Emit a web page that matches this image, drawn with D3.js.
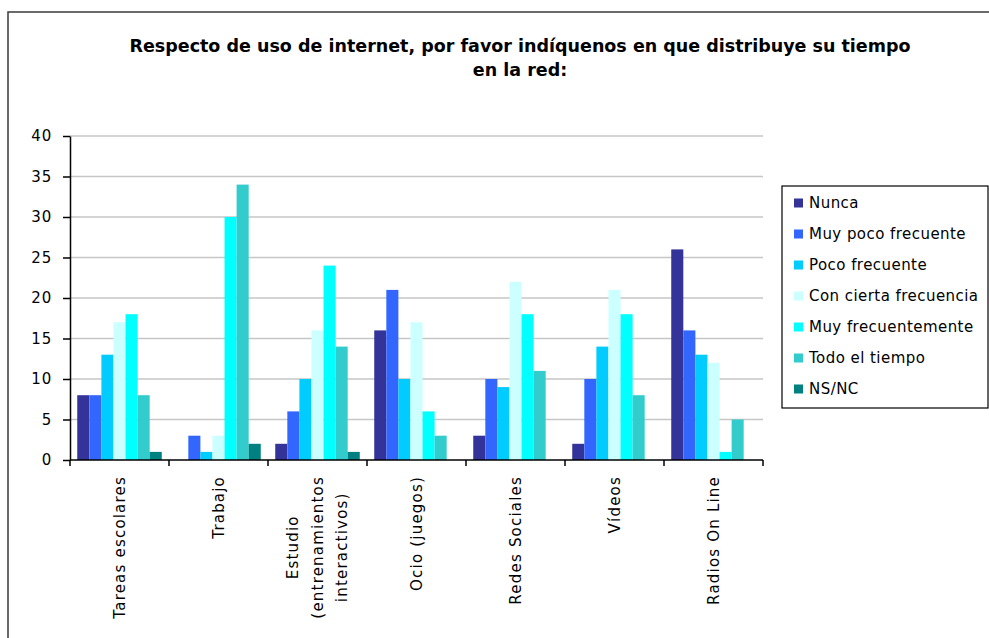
<!DOCTYPE html>
<html>
<head>
<meta charset="utf-8">
<script src="https://cdn.jsdelivr.net/npm/d3@7"></script>
<style>
  html, body { margin: 0; padding: 0; background: #ffffff; }
  svg { display: block; }
  text { font-family: "DejaVu Sans", Verdana, sans-serif; fill: #000; }
</style>
</head>
<body>
<svg id="chart" width="989" height="638"></svg>
<script>
// Categories (line breaks mark wrapped axis labels)
const categories = [
  "Tareas escolares",
  "Trabajo",
  "Estudio\n(entrenamientos\ninteractivos)",
  "Ocio (juegos)",
  "Redes Sociales",
  "Vídeos",
  "Radios On Line"
];

// One array per answer option, in category order
const seriesNames = [
  "Nunca",
  "Muy poco frecuente",
  "Poco frecuente",
  "Con cierta frecuencia",
  "Muy frecuentemente",
  "Todo el tiempo",
  "NS/NC"
];
const nunca               = [8, 0, 2, 16, 3, 2, 26];
const muyPocoFrecuente    = [8, 3, 6, 21, 10, 10, 16];
const pocoFrecuente       = [13, 1, 10, 10, 9, 14, 13];
const conCiertaFrecuencia = [17, 3, 16, 17, 22, 21, 12];
const muyFrecuentemente   = [18, 30, 24, 6, 18, 18, 1];
const todoElTiempo        = [8, 34, 14, 3, 11, 8, 5];
const nsnc                = [1, 2, 1, 0, 0, 0, 0];

const yTicks = [0, 5, 10, 15, 20, 25, 30, 35, 40];

const seriesValues = [nunca, muyPocoFrecuente, pocoFrecuente, conCiertaFrecuencia,
                      muyFrecuentemente, todoElTiempo, nsnc];
const colors = ["#333399", "#3366FF", "#00CCFF", "#CCFFFF", "#00FFFF", "#33CCCC", "#008080"];

const titleLines = [
  "Respecto de uso de internet, por favor indíquenos en que distribuye su tiempo",
  "en la red:"
];

const svg = d3.select("#chart");

// Outer chart frame
svg.append("rect")
  .attr("x", 8).attr("y", 12)
  .attr("width", 1000).attr("height", 700)
  .attr("fill", "#fff")
  .attr("stroke", "#3a3a3a").attr("stroke-width", 1.5);

// Title
svg.append("g").selectAll("text")
  .data(titleLines)
  .join("text")
  .attr("x", 520)
  .attr("y", (d, i) => 52 + i * 24)
  .attr("text-anchor", "middle")
  .attr("font-size", 17.5)
  .attr("font-weight", "bold")
  .text(d => d);

// Plot geometry
const plot = { left: 70, right: 763, top: 136, bottom: 460 };

const x0 = d3.scaleBand()
  .domain(categories)
  .range([plot.left, plot.right])
  .padding(0);

const x1 = d3.scaleBand()
  .domain(seriesNames)
  .range([0, x0.bandwidth()])
  .paddingInner(0)
  .paddingOuter(0.6);

const y = d3.scaleLinear()
  .domain([0, 40])
  .range([plot.bottom, plot.top]);

const color = d3.scaleOrdinal().domain(seriesNames).range(colors);

// Horizontal gridlines
svg.append("g")
  .selectAll("line")
  .data(yTicks.filter(t => t > 0))
  .join("line")
  .attr("x1", plot.left).attr("x2", plot.right)
  .attr("y1", d => y(d)).attr("y2", d => y(d))
  .attr("stroke", "#c6c6c6").attr("stroke-width", 1.5);

// Bars
const groups = svg.append("g")
  .selectAll("g")
  .data(categories)
  .join("g")
  .attr("transform", d => `translate(${x0(d)},0)`);

groups.selectAll("rect")
  .data((c, ci) => seriesNames.map((s, si) => ({ s, v: seriesValues[si][ci] })))
  .join("rect")
  .attr("x", d => x1(d.s))
  .attr("width", x1.bandwidth())
  .attr("y", d => y(d.v))
  .attr("height", d => y(0) - y(d.v))
  .attr("fill", d => color(d.s));

// Y axis
const yAxis = svg.append("g")
  .attr("transform", `translate(${plot.left},0)`)
  .call(d3.axisLeft(y).tickValues(yTicks).tickSize(7).tickPadding(11).tickSizeOuter(0));
yAxis.select(".domain").attr("stroke", "#000").attr("stroke-width", 1.5);
yAxis.selectAll(".tick line").attr("stroke", "#000").attr("stroke-width", 1.5);
yAxis.selectAll(".tick text")
  .attr("font-size", 15)
  .attr("letter-spacing", 0.8)
  .attr("font-family", "DejaVu Sans, Verdana, sans-serif")
  .attr("fill", "#000");

// X axis baseline and category separators
const xAxis = svg.append("g");
xAxis.append("line")
  .attr("x1", plot.left).attr("x2", plot.right)
  .attr("y1", plot.bottom).attr("y2", plot.bottom)
  .attr("stroke", "#000").attr("stroke-width", 1.5);
const boundaries = categories.map(c => x0(c)).concat([x0(categories[categories.length - 1]) + x0.bandwidth()]);
xAxis.selectAll("line.sep")
  .data(boundaries)
  .join("line")
  .attr("class", "sep")
  .attr("x1", d => d).attr("x2", d => d)
  .attr("y1", plot.bottom).attr("y2", plot.bottom + 6)
  .attr("stroke", "#000").attr("stroke-width", 1.5);

// Rotated category labels
const labelTop = 476;
const lineGap = 24.5;
categories.forEach(c => {
  const lines = c.split("\n");
  const cx = x0(c) + x0.bandwidth() / 2;
  const g = svg.append("g");
  const texts = g.selectAll("text")
    .data(lines)
    .join("text")
    .attr("font-size", 15)
    .attr("letter-spacing", 1.2)
    .attr("text-anchor", "middle")
    .attr("dominant-baseline", "central")
    .text(d => d);
  const maxLen = d3.max(texts.nodes(), n => n.getComputedTextLength());
  const cy = labelTop + maxLen / 2;
  texts.attr("transform", (d, i) => {
    const lx = cx + (i - (lines.length - 1) / 2) * lineGap;
    return `translate(${lx},${cy}) rotate(-90)`;
  });
});

// Legend
const legend = svg.append("g");
legend.append("rect")
  .attr("x", 782).attr("y", 186)
  .attr("width", 206).attr("height", 222)
  .attr("fill", "#fff")
  .attr("stroke", "#000").attr("stroke-width", 1.2);

const items = legend.selectAll("g.item")
  .data(seriesNames)
  .join("g")
  .attr("class", "item")
  .attr("transform", (d, i) => `translate(794,${203 + i * 31})`);
items.append("rect")
  .attr("x", 0).attr("y", -4.5)
  .attr("width", 9).attr("height", 9)
  .attr("fill", d => color(d));
items.append("text")
  .attr("x", 15).attr("y", 0)
  .attr("dominant-baseline", "central")
  .attr("font-size", 15)
  .attr("letter-spacing", 0.45)
  .text(d => d);
</script>
</body>
</html>
